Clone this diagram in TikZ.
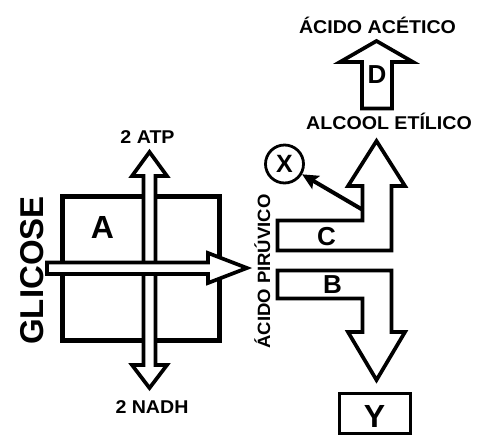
\documentclass[tikz,border=0pt]{standalone}
\usepackage{fontspec}
\setmainfont{Liberation Sans}
\newfontfamily\labf{Liberation Sans}[FakeStretch=1.06]
\newfontfamily\rotf{Liberation Sans}[FakeStretch=1.04]
\usetikzlibrary{arrows.meta}
\tikzset{
  lab/.style={inner sep=0pt, anchor=base, font=\labf\bfseries\fontsize{18.5}{20}\selectfont},
  rlab/.style={inner sep=0pt, anchor=base, rotate=90, font=\rotf\bfseries\fontsize{17.8}{19}\selectfont},
  big/.style={inner sep=0pt, anchor=base, font=\bfseries\fontsize{32}{34}\selectfont},
  mid/.style={inner sep=0pt, anchor=base, font=\bfseries\fontsize{26}{28}\selectfont},
  blockarrow/.style={draw=black, fill=white, line width=3.7pt, line join=miter},
}
\begin{document}
\begin{tikzpicture}[x=1pt,y=-1pt]
\useasboundingbox (0,0) rectangle (486,437);
% square
\node[draw=black, line width=5pt, minimum width=157pt, minimum height=144pt, inner sep=0pt] (sq) at (141,268.5) {};
% vertical double arrow
\draw[blockarrow] (149.5,152) -- (167,176) -- (155.5,176) -- (155.5,365) -- (167,365) -- (149.5,388)
  -- (132,365) -- (143.5,365) -- (143.5,176) -- (132,176) -- cycle;
% horizontal arrow
\draw[blockarrow] (47,262.5) -- (208,262.5) -- (208,253) -- (247,268) -- (208,283) -- (208,274) -- (47,274) -- cycle;
% C arrow (up)
\draw[blockarrow] (277.5,220.5) -- (362.5,220.5) -- (362.5,186) -- (348,186) -- (376.5,141) -- (405,186)
  -- (391.5,186) -- (391.5,250.5) -- (277.5,250.5) -- cycle;
% B arrow (down)
\draw[blockarrow] (277.5,270.5) -- (391.5,270.5) -- (391.5,332) -- (405,332) -- (376.5,380) -- (348,332)
  -- (362.5,332) -- (362.5,298.5) -- (277.5,298.5) -- cycle;
% D arrow (up)
\draw[blockarrow] (376.5,41) -- (413,62) -- (392,62) -- (392,108.5) -- (362,108.5) -- (362,62) -- (340,62) -- cycle;
% Y box
\node[draw=black, line width=3.7pt, minimum width=71pt, minimum height=40pt, inner sep=0pt] (ybox) at (375,413.5) {};
% X circle
\node[draw=black, circle, line width=2.8pt, minimum size=38pt, inner sep=0pt, font=\bfseries\fontsize{25}{27}\selectfont] (X) at (284.5,164) {X};
\coordinate (xs) at (363,210);
\draw[line width=4pt, -{Stealth[length=16pt,width=15pt,inset=3pt]}] (xs) -- (X);
% texts
\node[lab] (acet) at (377.5,33.3) {ÁCIDO ACÉTICO};
\node[lab] (alc) at (389,129.5) {ALCOOL ETÍLICO};
\node[lab] (atp) at (147.5,143.3) {2 ATP};
\node[lab] (nadh) at (152,413) {2 NADH};
\node[big] (la) at (102.5,238) {A};
\node[mid] (lc) at (326.5,245) {C};
\node[mid] (lb) at (332.5,293) {B};
\node[mid] (ld) at (377,83) {D};
\node[big] (ly) at (374.5,427) {Y};
\node[inner sep=0pt, anchor=base, rotate=90, font=\bfseries\fontsize{33}{35}\selectfont] (glic) at (43,270.5) {GLICOSE};
\node[rlab] (piru) at (270,271.5) {ÁCIDO PIRÚVICO};
\end{tikzpicture}
\end{document}
